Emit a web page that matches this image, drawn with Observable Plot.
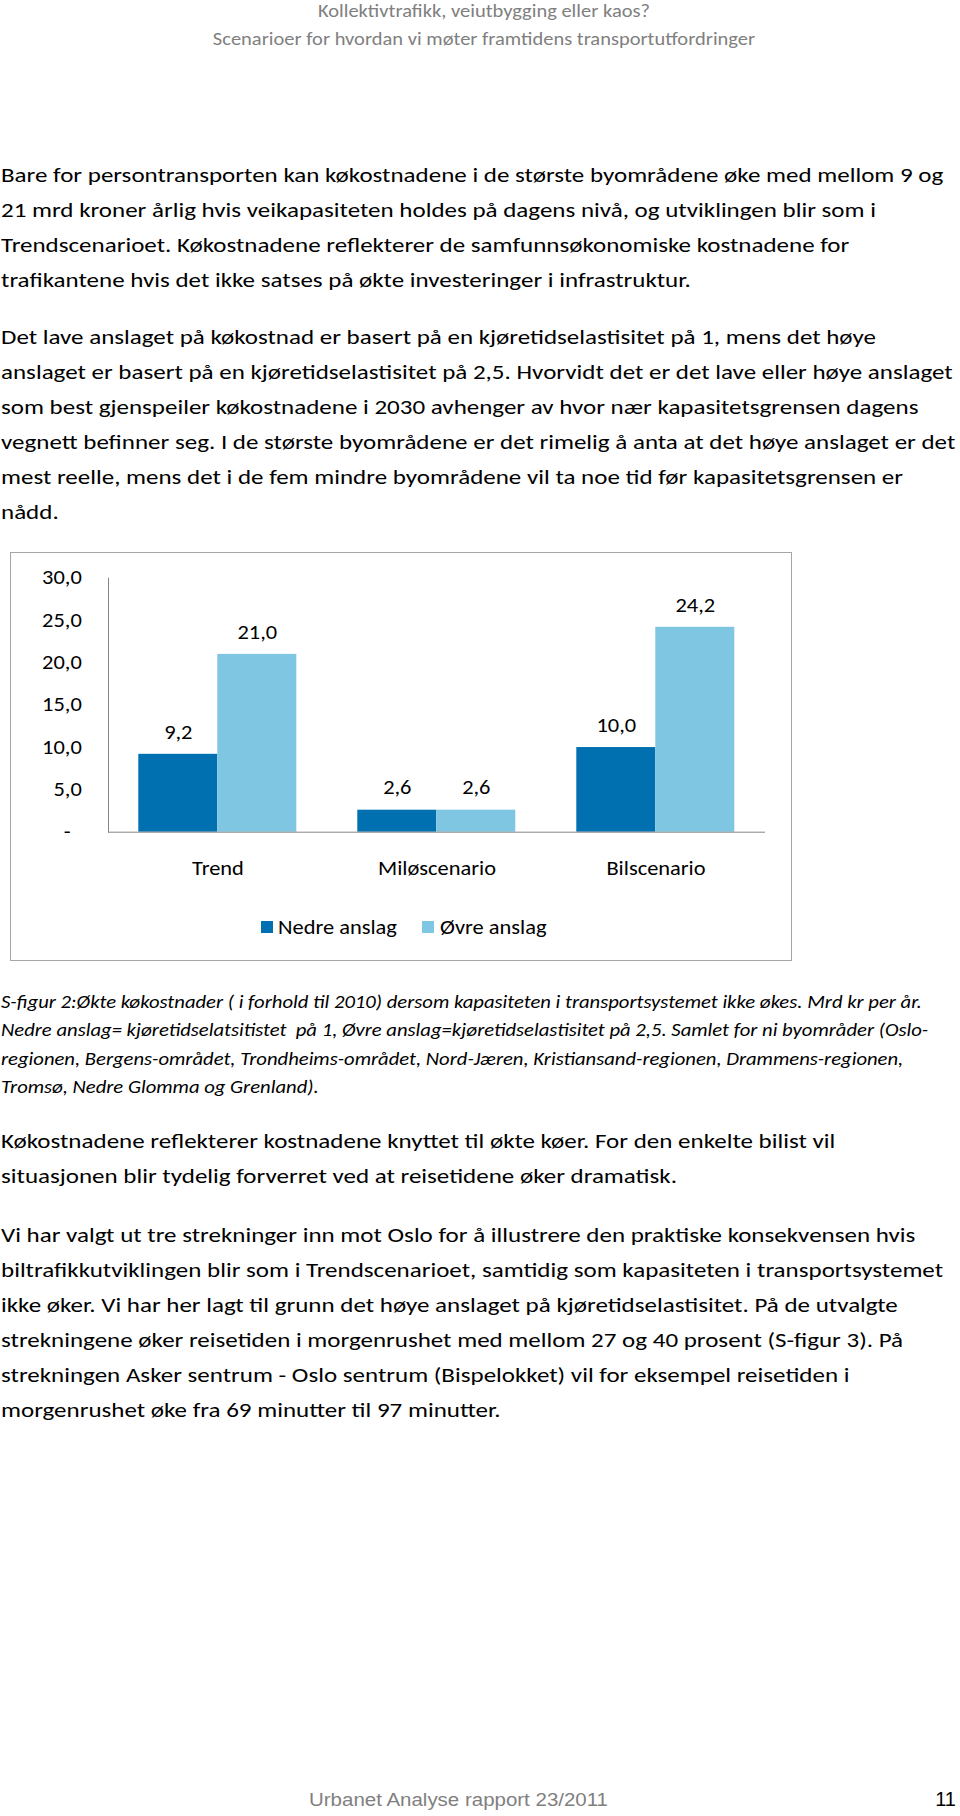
<!DOCTYPE html>
<html>
<head>
<meta charset="utf-8">
<script src="https://cdn.jsdelivr.net/npm/d3@7"></script>
<script src="https://cdn.jsdelivr.net/npm/@observablehq/plot@0.6"></script>
<style>
  html, body { margin: 0; padding: 0; background: #fff; }
  body { position: relative; width: 960px; height: 1816px; overflow: hidden; font-family: Carlito, Calibri, Lato, sans-serif; color: #000; }
  .abs { position: absolute; }
  .header { left: 4px; width: 960px; top: -2px; text-align: center; color: #808080; font-size: 17.5px; line-height: 27.6px; }
  .header > div { transform: scaleX(1.17); transform-origin: 50% 50%; }
  .para { left: 1px; font-size: 20.5px; line-height: 35px; white-space: pre; }
  .para > div { transform: scaleX(1.22); transform-origin: 0 50%; }
  .caption { left: 1px; font-size: 17.5px; line-height: 28.5px; font-style: italic; white-space: pre; }
  .caption > div { transform: scaleX(1.18); transform-origin: 0 50%; }
  .frame { left: 10px; top: 552px; width: 782px; height: 409px; box-sizing: border-box; border: 1px solid #a6a6a6; }
  #chart { left: 10px; top: 553px; }
  .legend { left: 260.7px; top: 914px; display: flex; align-items: center; font-size: 19.5px; height: 26px; }
  .legend .sw { width: 12px; height: 12px; margin-right: 5.3px; flex: none; }
  .legend .item { display: flex; align-items: center; margin-right: 26px; }
  .legend .lab { display: inline-block; white-space: pre; }
  .legend .lab > span { display: inline-block; transform: scaleX(1.15); transform-origin: 0 50%; }
  .footer { left: 309px; top: 1790px; font-family: "Liberation Sans", Arial, sans-serif; color: #808080; font-size: 17.5px; transform: scaleX(1.17); transform-origin: 0 50%; }
  .pagenum { right: 4px; top: 1788px; font-family: "Liberation Sans", Arial, sans-serif; color: #000; font-size: 20px; }
</style>
</head>
<body>
<div class="abs header" id="header"></div>
<div class="abs para" id="p1" style="top:157.5px"></div>
<div class="abs para" id="p2" style="top:319.5px"></div>
<div class="abs frame"></div>
<div class="abs" id="chart"></div>
<div class="abs legend" id="legend"></div>
<div class="abs caption" id="cap" style="top:987.5px"></div>
<div class="abs para" id="p3" style="top:1124px"></div>
<div class="abs para" id="p4" style="top:1217.5px"></div>
<div class="abs footer" id="footer"></div>
<div class="abs pagenum" id="pagenum"></div>
<script>
// ---- chart data ----
const categories = ["Trend", "Miløscenario", "Bilscenario"];
const series = ["Nedre anslag", "Øvre anslag"];
const nedreAnslag = [9.2, 2.6, 10.0];
const ovreAnslag = [21.0, 2.6, 24.2];
const yTicks = [0, 5, 10, 15, 20, 25, 30];
const seriesColors = ["#0070b0", "#7fc6e3"];

// ---- page text ----
const headerLines = [
  "Kollektivtrafikk, veiutbygging eller kaos?",
  "Scenarioer for hvordan vi møter framtidens transportutfordringer"
];
const para1 = [
  "Bare for persontransporten kan køkostnadene i de største byområdene øke med mellom 9 og",
  "21 mrd kroner årlig hvis veikapasiteten holdes på dagens nivå, og utviklingen blir som i",
  "Trendscenarioet. Køkostnadene reflekterer de samfunnsøkonomiske kostnadene for",
  "trafikantene hvis det ikke satses på økte investeringer i infrastruktur."
];
const para2 = [
  "Det lave anslaget på køkostnad er basert på en kjøretidselastisitet på 1, mens det høye",
  "anslaget er basert på en kjøretidselastisitet på 2,5. Hvorvidt det er det lave eller høye anslaget",
  "som best gjenspeiler køkostnadene i 2030 avhenger av hvor nær kapasitetsgrensen dagens",
  "vegnett befinner seg. I de største byområdene er det rimelig å anta at det høye anslaget er det",
  "mest reelle, mens det i de fem mindre byområdene vil ta noe tid før kapasitetsgrensen er",
  "nådd."
];
const captionLines = [
  "S-figur 2:Økte køkostnader ( i forhold til 2010) dersom kapasiteten i transportsystemet ikke økes. Mrd kr per år.",
  "Nedre anslag= kjøretidselatsitistet  på 1, Øvre anslag=kjøretidselastisitet på 2,5. Samlet for ni byområder (Oslo-",
  "regionen, Bergens-området, Trondheims-området, Nord-Jæren, Kristiansand-regionen, Drammens-regionen,",
  "Tromsø, Nedre Glomma og Grenland)."
];
const para3 = [
  "Køkostnadene reflekterer kostnadene knyttet til økte køer. For den enkelte bilist vil",
  "situasjonen blir tydelig forverret ved at reisetidene øker dramatisk."
];
const para4 = [
  "Vi har valgt ut tre strekninger inn mot Oslo for å illustrere den praktiske konsekvensen hvis",
  "biltrafikkutviklingen blir som i Trendscenarioet, samtidig som kapasiteten i transportsystemet",
  "ikke øker. Vi har her lagt til grunn det høye anslaget på kjøretidselastisitet. På de utvalgte",
  "strekningene øker reisetiden i morgenrushet med mellom 27 og 40 prosent (S-figur 3). På",
  "strekningen Asker sentrum - Oslo sentrum (Bispelokket) vil for eksempel reisetiden i",
  "morgenrushet øke fra 69 minutter til 97 minutter."
];
const footerText = "Urbanet Analyse rapport 23/2011";
const pageNumber = "11";

function fillLines(id, lines) {
  const el = document.getElementById(id);
  lines.forEach(t => { const d = document.createElement("div"); d.textContent = t; el.appendChild(d); });
}
fillLines("header", headerLines);
fillLines("p1", para1);
fillLines("p2", para2);
fillLines("cap", captionLines);
fillLines("p3", para3);
fillLines("p4", para4);
document.getElementById("footer").textContent = footerText;
document.getElementById("pagenum").textContent = pageNumber;

// ---- chart ----
const rows = categories.flatMap((c, i) => [
  {cat: c, serie: series[0], value: nedreAnslag[i]},
  {cat: c, serie: series[1], value: ovreAnslag[i]}
]);
const fmt = v => v === 0 ? "-\u2002" : v.toFixed(1).replace(".", ",");
const axisColor = "#868686";
const chartFont = "Carlito, Calibri, Lato, sans-serif";
const textStretch = 1.15;

const chart = Plot.plot({
  width: 780,
  height: 340,
  marginLeft: 96.7,
  marginRight: 24,
  marginTop: 24.7,
  marginBottom: 61.3,
  style: {fontFamily: chartFont, fontSize: "19.5px", color: "#000", background: "transparent", overflow: "visible"},
  fx: {domain: categories, padding: 0, label: null, tickSize: 0, tickPadding: 29, axis: "bottom"},
  x: {domain: series, paddingInner: 0, paddingOuter: 0.375, axis: null},
  y: {domain: [0, 30], ticks: yTicks, tickFormat: fmt, tickSize: 0, tickPadding: 26.7, label: null},
  color: {domain: series, range: seriesColors},
  marks: [
    Plot.barY(rows, {fx: "cat", x: "serie", y: "value", fill: "serie"}),
    Plot.text(rows, {fx: "cat", x: "serie", y: "value", text: d => fmt(d.value), dy: -22, lineAnchor: "middle"}),
    Plot.ruleY([0], {stroke: axisColor}),
    Plot.frame({anchor: "left", facetAnchor: "left", stroke: axisColor, strokeOpacity: 1})
  ]
});
document.getElementById("chart").appendChild(chart);
// widen the glyphs slightly (the source font is wider than the available substitute),
// scaling each label about its own anchor so that positions stay where Plot put them
chart.querySelectorAll("text").forEach(t => {
  const anchor = getComputedStyle(t).textAnchor;
  const b = t.getBBox();
  const cx = anchor === "end" ? b.x + b.width : anchor === "start" ? b.x : b.x + b.width / 2;
  const prev = t.getAttribute("transform") || "";
  t.setAttribute("transform", `${prev} translate(${cx},0) scale(${textStretch},1) translate(${-cx},0)`.trim());
});

// ---- legend ----
const legend = document.getElementById("legend");
series.forEach((s, i) => {
  const item = document.createElement("div");
  item.className = "item";
  const sw = document.createElement("div");
  sw.className = "sw";
  sw.style.background = seriesColors[i];
  const lab = document.createElement("span");
  lab.className = "lab";
  const inner = document.createElement("span");
  inner.textContent = s;
  lab.appendChild(inner);
  item.appendChild(sw);
  item.appendChild(lab);
  legend.appendChild(item);
  lab.style.width = (inner.offsetWidth * textStretch) + "px";
});
</script>
</body>
</html>
